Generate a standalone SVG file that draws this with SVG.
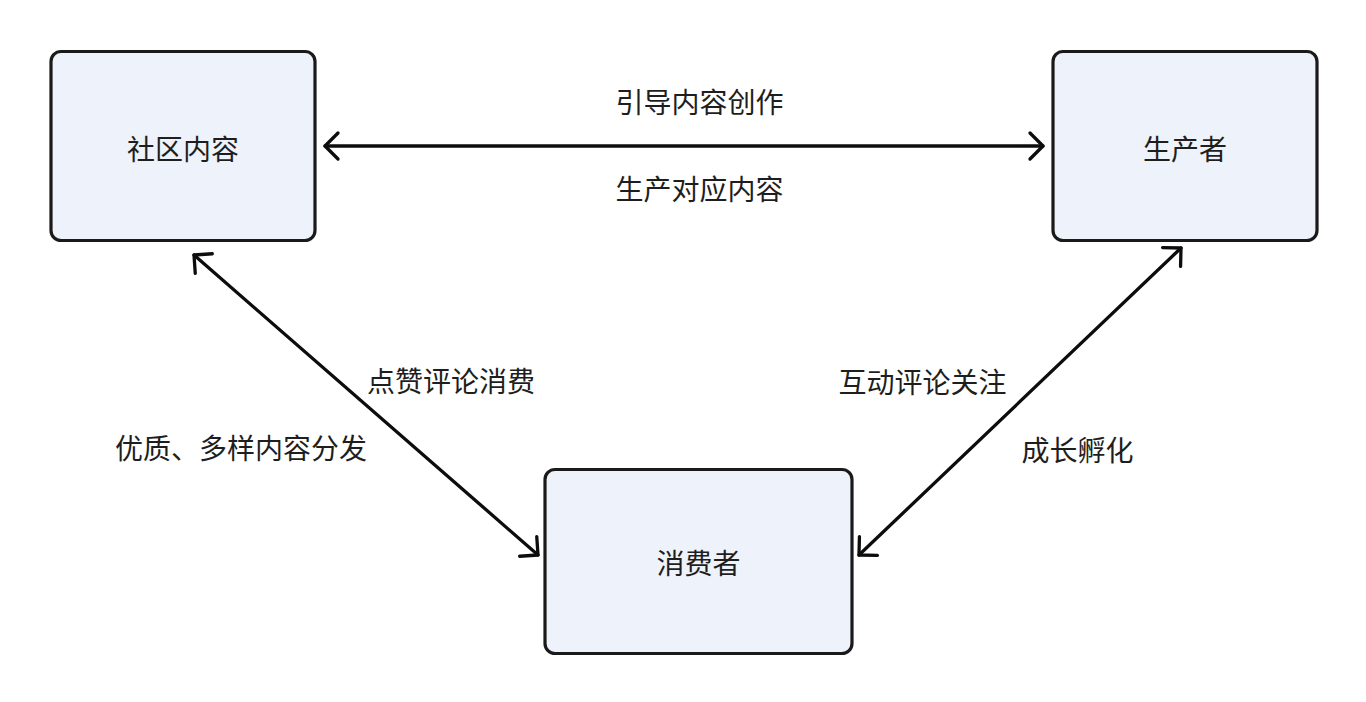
<svg xmlns="http://www.w3.org/2000/svg" width="1366" height="702" viewBox="0 0 1366 702">
<style>
.box{fill:#eef2fa;stroke:#1a1a1a;stroke-width:3.2}
.t{font-family:"Noto Sans CJK SC","Noto Sans",sans-serif;font-size:28px;fill:#1e1e1e;text-anchor:middle;dominant-baseline:central}
.edge{stroke:#0d0d0d;stroke-width:3.3;fill:none;stroke-linecap:round;marker-start:url(#ah);marker-end:url(#ah)}
</style>
<defs>
<marker id="ah" markerUnits="userSpaceOnUse" viewBox="-20 -20 40 40" markerWidth="40" markerHeight="40" refX="0" refY="0" orient="auto-start-reverse">
<path d="M-13,-13 L0,0 L-13,13" fill="none" stroke="#0d0d0d" stroke-width="3.3" stroke-linecap="round" stroke-linejoin="round"/>
</marker>
</defs>
<rect width="1366" height="702" fill="#ffffff"/>
<g id="connectors">
<g id="edge-community-producer">
<line class="edge" x1="325" y1="146" x2="1043" y2="146"/>
<text class="t" x="699.5" y="100.5">引导内容创作</text>
<text class="t" x="699.5" y="187.5">生产对应内容</text>
</g>
<g id="edge-community-consumer">
<line class="edge" x1="194" y1="255" x2="538" y2="555"/>
<text class="t" x="451" y="380">点赞评论消费</text>
<text class="t" x="241" y="447">优质、多样内容分发</text>
</g>
<g id="edge-producer-consumer">
<line class="edge" x1="1181" y1="248" x2="859" y2="555"/>
<text class="t" x="922.5" y="380.5">互动评论关注</text>
<text class="t" x="1077.5" y="449">成长孵化</text>
</g>
</g>
<g id="node-community">
<rect class="box" x="51" y="51.5" width="264" height="189" rx="10"/>
<text class="t" x="183" y="147.5">社区内容</text>
</g>
<g id="node-producer">
<rect class="box" x="1053" y="51.5" width="264" height="189" rx="10"/>
<text class="t" x="1185" y="147.5">生产者</text>
</g>
<g id="node-consumer">
<rect class="box" x="545" y="469.5" width="307" height="184" rx="10"/>
<text class="t" x="698.5" y="562">消费者</text>
</g>
</svg>
